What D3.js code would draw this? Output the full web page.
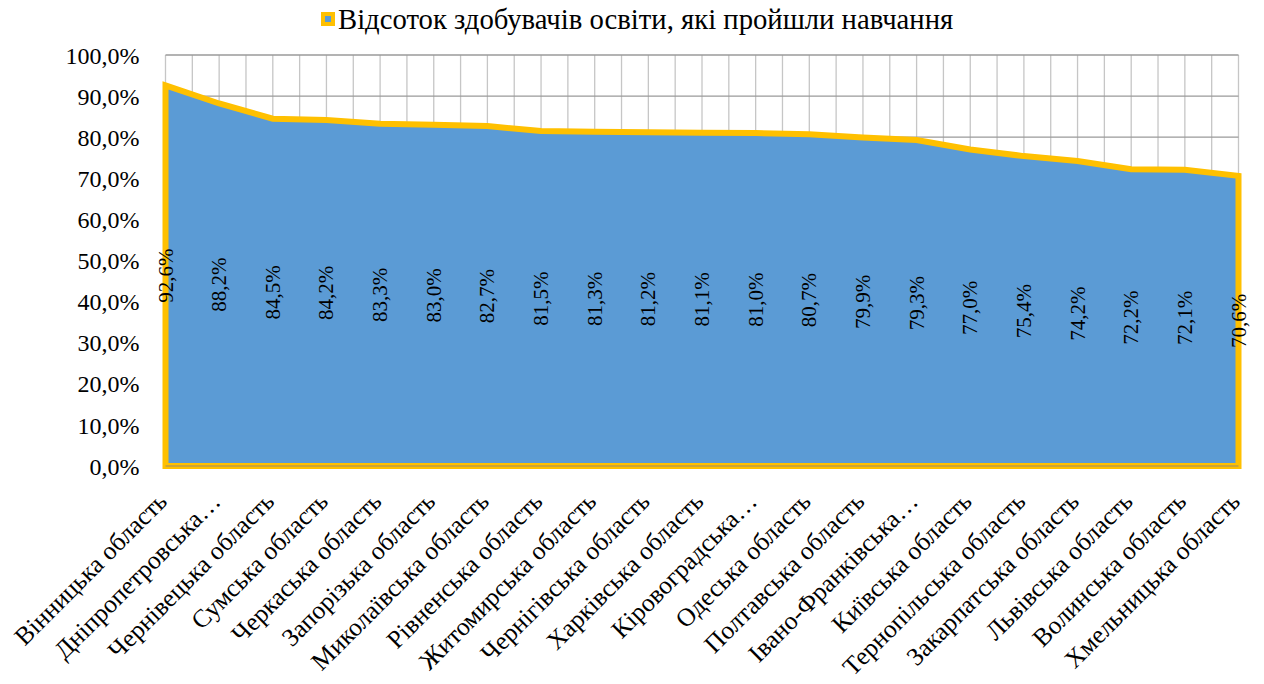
<!DOCTYPE html>
<html>
<head>
<meta charset="utf-8">
<script src="https://cdn.jsdelivr.net/npm/d3@7"></script>
<style>
  html, body { margin: 0; padding: 0; background: #fff; }
  svg { display: block; }
  text { font-family: "Liberation Serif", "Times New Roman", serif; fill: #000; }
</style>
</head>
<body>
<svg id="chart" width="1264" height="684"></svg>
<script>
// Regions (oblasts), ordered by share of learners who completed training
const regions = [
  "Вінницька область",
  "Дніпропетровська…",
  "Чернівецька область",
  "Сумська область",
  "Черкаська область",
  "Запорізька область",
  "Миколаївська область",
  "Рівненська область",
  "Житомирська область",
  "Чернігівська область",
  "Харківська область",
  "Кіровоградська…",
  "Одеська область",
  "Полтавська область",
  "Івано-Франківська…",
  "Київська область",
  "Тернопільська область",
  "Закарпатська область",
  "Львівська область",
  "Волинська область",
  "Хмельницька область"
];

// Percentage of learners who completed training
const shares = [
  92.6, 88.2, 84.5, 84.2, 83.3, 83.0, 82.7, 81.5, 81.3, 81.2, 81.1,
  81.0, 80.7, 79.9, 79.3, 77.0, 75.4, 74.2, 72.2, 72.1, 70.6
];

const yTicks = [0, 10, 20, 30, 40, 50, 60, 70, 80, 90, 100];
const seriesName = "Відсоток здобувачів освіти, які пройшли навчання";

const fmt = v => d3.format(".1f")(v).replace(".", ",") + "%";

const svg = d3.select("#chart");
const plot = { left: 165.5, right: 1238.5, top: 55, bottom: 466 };

const x = d3.scalePoint()
  .domain(d3.range(regions.length))
  .range([plot.left, plot.right]);

const y = d3.scaleLinear()
  .domain([0, 100])
  .range([plot.bottom, plot.top]);

const step = x.step();

// Vertical gridlines: at every category and halfway between neighbours
const vLines = d3.range(0, regions.length - 0.5, 0.5);
svg.append("g")
  .selectAll("line")
  .data(vLines)
  .join("line")
  .attr("x1", d => plot.left + d * step)
  .attr("x2", d => plot.left + d * step)
  .attr("y1", plot.top)
  .attr("y2", plot.bottom)
  .attr("stroke", "#c6c6c6")
  .attr("stroke-width", 1.3);

// Horizontal gridlines
svg.append("g")
  .selectAll("line")
  .data(yTicks)
  .join("line")
  .attr("x1", plot.left)
  .attr("x2", plot.right)
  .attr("y1", d => y(d))
  .attr("y2", d => y(d))
  .attr("stroke", "#9a9a9a")
  .attr("stroke-width", 1.3);

// Y axis labels
const yAxis = d3.axisLeft(y)
  .tickValues(yTicks)
  .tickSize(0)
  .tickPadding(0)
  .tickFormat(fmt);

svg.append("g")
  .attr("transform", `translate(${plot.left - 26},0)`)
  .call(yAxis)
  .call(g => g.select(".domain").remove())
  .call(g => g.selectAll("text")
    .attr("font-size", 24)
    .attr("fill", "#000")
    .attr("dy", "0.34em"));

// Area
const area = d3.area()
  .x((d, i) => x(i))
  .y0(y(0))
  .y1(d => y(d));

svg.append("path")
  .datum(shares)
  .attr("d", area(shares) + "Z")
  .attr("fill", "#5b9bd5")
  .attr("stroke", "#ffc000")
  .attr("stroke-width", 6)
  .attr("stroke-linejoin", "miter");

// Category axis line
svg.append("line")
  .attr("x1", plot.left)
  .attr("x2", plot.right)
  .attr("y1", plot.bottom)
  .attr("y2", plot.bottom)
  .attr("stroke", "#9a8a6a")
  .attr("stroke-width", 1);

// Value labels, rotated, centred halfway up each value
svg.append("g")
  .selectAll("text")
  .data(shares)
  .join("text")
  .attr("transform", (d, i) => `translate(${x(i)},${y(d / 2)}) rotate(-90)`)
  .attr("text-anchor", "middle")
  .attr("dominant-baseline", "central")
  .attr("font-size", 21)
  .text(d => fmt(d));

// Category labels, rotated 45°
svg.append("g")
  .selectAll("text")
  .data(regions)
  .join("text")
  .attr("transform", (d, i) => `translate(${x(i) + 3},${plot.bottom + 37}) rotate(-45)`)
  .attr("text-anchor", "end")
  .attr("font-size", 25.5)
  .text(d => d);

// Legend
const legend = svg.append("g");
legend.append("rect")
  .attr("x", 321).attr("y", 12).attr("width", 14).attr("height", 14)
  .attr("fill", "#ffc000");
legend.append("rect")
  .attr("x", 325).attr("y", 16).attr("width", 6).attr("height", 6)
  .attr("fill", "#5b9bd5");
legend.append("text")
  .attr("x", 338).attr("y", 29)
  .attr("font-size", 28.7)
  .text(seriesName);
</script>
</body>
</html>
